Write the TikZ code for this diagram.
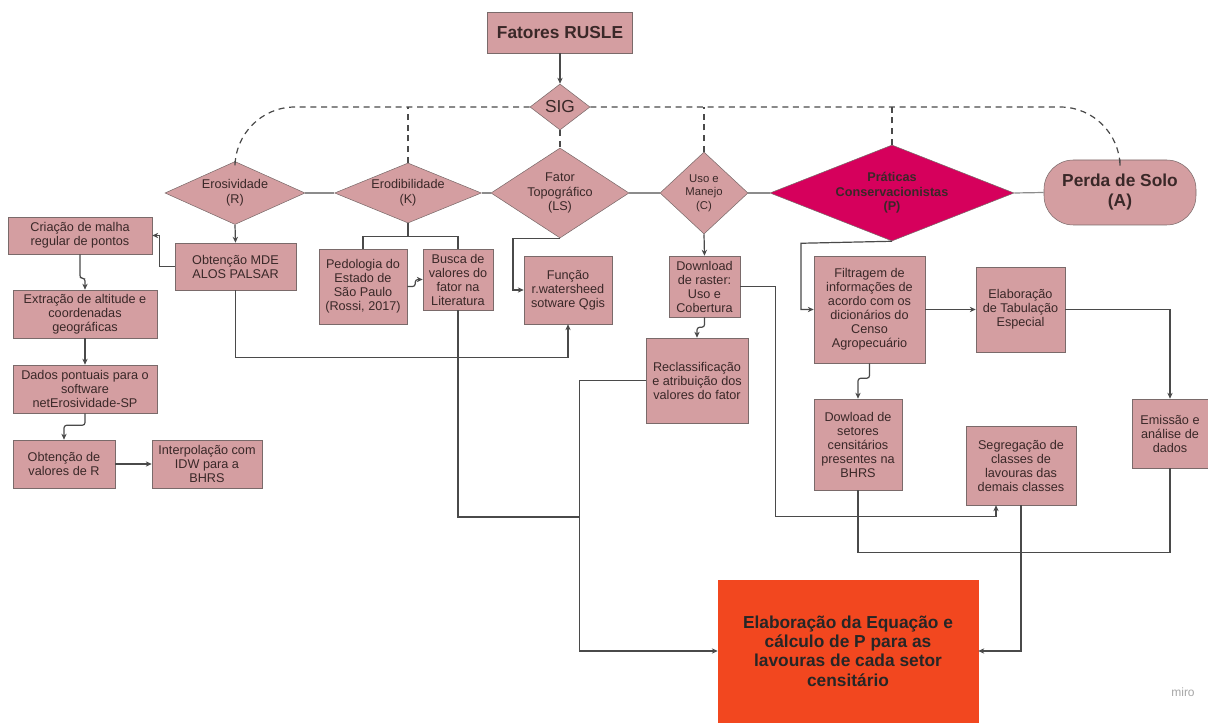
\documentclass[tikz,border=0pt]{standalone}
\usepackage{fontspec}
\setmainfont{Liberation Sans}
\usetikzlibrary{shapes.geometric,arrows.meta}
\definecolor{rosa}{HTML}{D49EA1}
\definecolor{borda}{HTML}{7A6A6A}
\definecolor{linha}{HTML}{4A4A4A}
\definecolor{texto}{HTML}{3A2828}
\definecolor{pratica}{HTML}{D6005C}
\definecolor{laranja}{HTML}{F2471F}
\begin{document}
\begin{tikzpicture}[x=0.75pt,y=-0.75pt,
    caixa/.style={draw=borda, fill=rosa, text=texto, align=center, inner sep=1pt, font=\fontsize{9.5}{10.5}\selectfont},
    losango/.style={diamond, draw=borda, fill=rosa, text=texto, align=center, inner sep=0pt, font=\fontsize{9.5}{11}\selectfont},
    seta/.style={draw=linha, line width=0.9pt, -{Stealth[length=4.5pt,width=4pt]}},
    liga/.style={draw=linha, line width=0.9pt},
    tracejado/.style={draw=linha, line width=0.9pt, dash pattern=on 4.5pt off 3.5pt}]
    \useasboundingbox (0,0) rectangle (1208,723);

    % Topo
    \node[caixa, minimum width=108.75pt, minimum height=30.75pt, font=\bfseries\fontsize{13}{15}\selectfont] (rusle) at (560,32.5) {Fatores RUSLE};
    \node[losango, minimum width=45pt, minimum height=34.5pt, font=\fontsize{13}{14}\selectfont] (sig) at (560,107) {SIG};

    % Fatores
    \node[losango, minimum width=105pt, minimum height=47.25pt, shape aspect=2.2] (R) at (235,193) {Erosividade\\(R)};
    \node[losango, minimum width=110pt, minimum height=45pt, shape aspect=2.4] (K) at (408,193) {Erodibilidade\\(K)};
    \node[losango, minimum width=103.5pt, minimum height=67.5pt, shape aspect=1.5] (LS) at (560,193) {Fator\\Topográfico\\(LS)};
    \node[losango, minimum width=66pt, minimum height=61.5pt, shape aspect=1.1, font=\fontsize{8.5}{10}\selectfont] (C) at (704,193) {Uso e\\Manejo\\(C)};
    \node[losango, fill=pratica, minimum width=183pt, minimum height=72pt, shape aspect=2.5, font=\bfseries\fontsize{9.5}{11}\selectfont] (P) at (892,193) {Práticas\\Conservacionistas\\(P)};
    \node[caixa, rounded corners=22pt, minimum width=114pt, minimum height=48.75pt, font=\bfseries\fontsize{13}{15}\selectfont] (A) at (1120,192.5) {Perda de Solo\\(A)};

    % Erosividade
    \node[caixa, minimum width=108pt, minimum height=27.75pt] (malha) at (80,235.5) {Criação de malha\\regular de pontos};
    \node[caixa, minimum width=90.75pt, minimum height=35.25pt] (mde) at (235.5,266.5) {Obtenção MDE\\ALOS PALSAR};
    \node[caixa, minimum width=108pt, minimum height=36pt] (extr) at (85,314) {Extração de altitude e\\coordenadas\\geográficas};
    \node[caixa, minimum width=108pt, minimum height=36pt] (dados) at (85,389) {Dados pontuais para o\\software\\netErosividade-SP};
    \node[caixa, minimum width=76.5pt, minimum height=36pt] (valR) at (64,464) {Obtenção de\\valores de R};
    \node[caixa, minimum width=82.5pt, minimum height=36pt] (idw) at (207,464) {Interpolação com\\IDW para a\\BHRS};

    % Erodibilidade e LS
    \node[caixa, minimum width=66pt, minimum height=56.25pt] (pedo) at (363,286.5) {Pedologia do\\Estado de\\São Paulo\\(Rossi, 2017)};
    \node[caixa, minimum width=52.5pt, minimum height=45.75pt] (busca) at (458,279.5) {Busca de\\valores do\\fator na\\Literatura};
    \node[caixa, minimum width=66pt, minimum height=51pt] (func) at (568,290) {Função\\r.watersheed\\sotware Qgis};

    % Uso e Manejo
    \node[caixa, minimum width=53.25pt, minimum height=45.75pt] (download) at (704.5,286.5) {Download\\de raster:\\Uso e\\Cobertura};
    \node[caixa, minimum width=76.5pt, minimum height=63.75pt] (reclass) at (697,380.5) {Reclassificação\\e atribuição dos\\valores do fator};

    % Praticas
    \node[caixa, minimum width=83.25pt, minimum height=80.25pt] (filtr) at (869.5,309.5) {Filtragem de\\informações de\\acordo com os\\dicionários do\\Censo\\Agropecuário};
    \node[caixa, minimum width=66.75pt, minimum height=63.75pt] (elab) at (1020.5,309.5) {Elaboração\\de Tabulação\\Especial};
    \node[caixa, minimum width=57pt, minimum height=51.75pt] (emis) at (1170,433.5) {Emissão e\\análise de\\dados};
    \node[caixa, minimum width=66pt, minimum height=68.25pt] (dowl) at (858,444.5) {Dowload de\\setores\\censitários\\presentes na\\BHRS};
    \node[caixa, minimum width=82.5pt, minimum height=59.25pt] (seg) at (1021,465.5) {Segregação de\\classes de\\lavouras das\\demais classes};

    % Resultado
    \node[caixa, fill=laranja, draw=laranja, text=black!85, minimum width=195pt, minimum height=106.5pt, font=\bfseries\fontsize{13}{14.5}\selectfont] (final) at (848,651) {Elaboração da Equação e\\cálculo de P para as\\lavouras de cada setor\\censitário};
    \node[text=black!35, font=\fontsize{9}{10}\selectfont] (miro) at (1183,692) {miro};

    % Ligacoes tracejadas do SIG
    \draw[tracejado, rounded corners=45pt] (sig.west) -| (R.north);
    \draw[tracejado] (K.north) -- (K.north |- sig.west);
    \draw[tracejado] (sig.south) -- (LS.north);
    \draw[tracejado, rounded corners=45pt] (sig.east) -| (A.north);
    \draw[tracejado] (C.north) -- (C.north |- sig.east);
    \draw[tracejado] (P.north) -- (P.north |- sig.east);
    \draw[seta] (rusle.south) -- (sig.north);

    % Linha entre os fatores
    \foreach \a/\b in {R/K,K/LS,LS/C,C/P,P/A}
        \draw[liga, draw=black!45] (\a.east) -- (\b.west);

    % Erosividade
    \draw[seta] (R.south) -- (mde.north);
    \draw[seta] (mde.west) -- ++(-15,0) |- (malha.east);
    \draw[seta, rounded corners=2pt] (malha.south) -- ++(0,24) -| (extr.north);
    \draw[seta] (extr.south) -- (dados.north);
    \draw[seta, rounded corners=2pt] (dados.south) -- ++(0,12) -| (valR.north);
    \draw[seta] (valR.east) -- (idw.west);
    \draw[seta] (mde.south) -- ++(0,67) -| (func.south);

    % Erodibilidade e LS
    \draw[liga] (K.south) -- ++(0,14);
    \draw[liga] (pedo.north) -- ++(0,-12) -| (busca.north);
    \draw[seta, rounded corners=2pt] (pedo.east) -- ++(8,0) |- (busca.west);
    \draw[seta] (LS.south) -- ++(-47,0) |- (func.west);
    \coordinate (tronco) at (580,517);
    \draw[liga] (busca.south) |- (tronco);

    % Uso e Manejo
    \draw[seta] (C.south) -- (download.north);
    \draw[seta, rounded corners=2pt] (download.south) -- ++(0,10) -| (reclass.north);
    \draw[seta] (reclass.west) -- ++(-66,0) |- (final.west);
    \draw[seta] (download.east) -- ++(35,0) |- ([xshift=-18.75pt,yshift=-8.25pt]seg.south) -- ([xshift=-18.75pt]seg.south);

    % Praticas
    \draw[seta] (P.south) -- ++(-91,2) |- (filtr.west);
    \draw[seta] (filtr.east) -- (elab.west);
    \draw[seta] (elab.east) -| (emis.north);
    \draw[seta, rounded corners=2pt] (filtr.south) -- ++(0,15) -| (dowl.north);
    \draw[liga] (dowl.south) -- ++(0,62) -| (emis.south);
    \draw[seta] (seg.south) |- (final.east);

\end{tikzpicture}
\end{document}
